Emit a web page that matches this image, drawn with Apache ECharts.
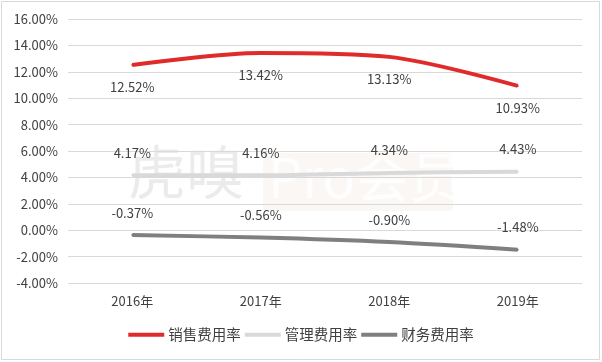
<!DOCTYPE html>
<html><head><meta charset="utf-8">
<script src="https://cdn.jsdelivr.net/npm/echarts@6/dist/echarts.min.js"></script>
<style>html,body{margin:0;padding:0;background:#fff}#c{width:602px;height:362px}</style>
</head><body><div id="c"></div>
<script>
const categories = ['2016年', '2017年', '2018年', '2019年'];
const salesRate = [12.52, 13.42, 13.13, 10.93];
const mgmtRate = [4.17, 4.16, 4.34, 4.43];
const finRate = [-0.37, -0.56, -0.90, -1.48];
const seriesNames = ['销售费用率', '管理费用率', '财务费用率'];

const FONT = '"Noto Sans CJK SC", "Noto Sans", sans-serif';
const chart = echarts.init(document.getElementById('c'), null, {renderer: 'canvas'});
function mk(name, data, color, pos) {
  return {
    name, type: 'line', data, smooth: 0.3,
    symbol: 'circle', symbolSize: 2,
    itemStyle: {color},
    lineStyle: {color, width: 4},
    label: {show: true, position: pos, distance: 15, color: '#404040', fontSize: 13, fontFamily: FONT,
      formatter: p => p.value.toFixed(2) + '%'},
    z: 5
  };
}
chart.setOption({
  animation: false,
  textStyle: {fontFamily: FONT},
  grid: {left: 68, right: 20, top: 19, bottom: 79},
  graphic: [
    {type: 'rect', shape: {x: 1.5, y: 1.5, width: 598, height: 358}, style: {fill: 'none', stroke: '#d9d9d9', lineWidth: 1}, z: -10},
    {type: 'text', left: 128, top: 143, style: {text: '虎嗅', font: '58px "Noto Sans CJK SC"', fill: 'rgba(0,0,0,0.08)'}, z: -5},
    {type: 'rect', shape: {x: 263, y: 153, width: 190, height: 58, r: 3}, style: {fill: 'rgba(225,195,180,0.14)'}, z: -6},
    {type: 'text', left: 268, top: 150, style: {text: 'Pro会员', font: '54px "Noto Sans CJK SC"', fill: 'rgba(255,255,255,0.9)'}, z: -5}
  ],
  legend: {
    bottom: 15, left: 'center', itemWidth: 36, itemHeight: 4, itemGap: 4,
    icon: 'rect',
    textStyle: {color: '#404040', fontSize: 14.5, fontFamily: FONT, padding: [0, 0, 0, -1]},
    data: seriesNames
  },
  xAxis: {
    type: 'category', data: categories, boundaryGap: true,
    axisLine: {show: false}, axisTick: {show: false},
    axisLabel: {color: '#404040', fontSize: 13, margin: 12, fontFamily: FONT}
  },
  yAxis: {
    type: 'value', min: -4, max: 16, interval: 2,
    axisLine: {show: false}, axisTick: {show: false},
    splitLine: {lineStyle: {color: '#d9d9d9', width: 1}},
    axisLabel: {color: '#404040', fontSize: 13, margin: 10, fontFamily: FONT, formatter: v => v.toFixed(2) + '%'}
  },
  series: [
    mk(seriesNames[0], salesRate, '#e02b2b', 'bottom'),
    mk(seriesNames[1], mgmtRate, '#d9d9d9', 'top'),
    mk(seriesNames[2], finRate, '#7f7f7f', 'top')
  ]
});
</script></body></html>
